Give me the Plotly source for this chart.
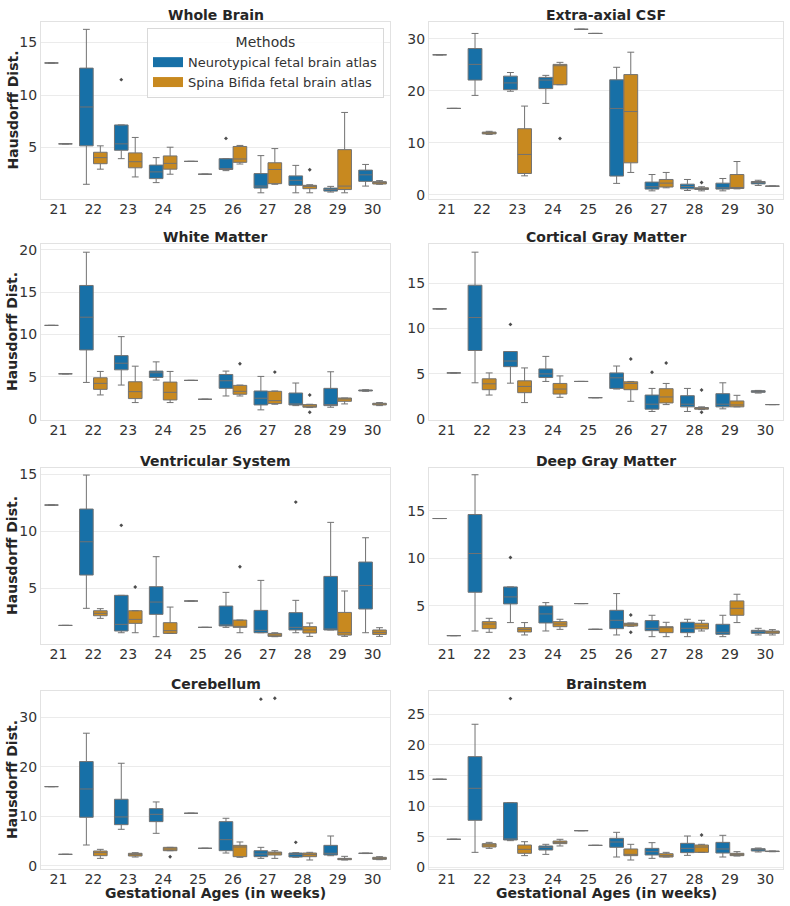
import plotly.graph_objects as go

# Gestational ages (weeks) on the x axis
ages = [21, 22, 23, 24, 25, 26, 27, 28, 29, 30]

# Box statistics per week: (lower whisker, q1, median, q3, upper whisker)
# nt = Neurotypical fetal brain atlas, sb = Spina Bifida fetal brain atlas
whole_brain_nt = [(13.05,) * 5, (1.5, 5.16, 8.86, 12.56, 16.25), (3.94, 4.74, 5.35, 7.15, 7.15),
                  (1.66, 2.04, 2.68, 3.33, 4.04), (3.68,) * 5, (2.8, 2.91, 2.95, 3.94, 3.94),
                  (0.69, 1.14, 1.33, 2.52, 4.23), (0.69, 1.4, 1.88, 2.3, 3.3),
                  (0.76, 0.85, 1.0, 1.14, 1.3), (1.33, 1.78, 2.4, 2.85, 3.39)]
whole_brain_sb = [(5.35,) * 5, (2.94, 3.46, 4.04, 4.55, 5.16), (2.2, 3.07, 3.65, 4.49, 5.96),
                  (2.46, 2.94, 3.49, 4.2, 5.03), (2.46,) * 5, (3.43, 3.59, 3.91, 5.1, 5.2),
                  (1.5, 1.56, 2.91, 3.55, 4.9), (0.69, 1.08, 1.3, 1.4, 1.46),
                  (0.69, 1.0, 1.33, 4.8, 8.34), (1.5, 1.53, 1.66, 1.75, 1.85)]
whole_brain_nt_out = [(23, 11.46), (26, 5.87)]
whole_brain_sb_out = [(28, 2.88)]

csf_nt = [(26.9,) * 5, (19.1, 22.05, 25.06, 28.1, 31.0), (19.9, 20.2, 21.5, 22.8, 23.5),
          (17.56, 20.4, 22.05, 22.56, 22.95), (31.8,) * 5, (2.2, 3.6, 16.6, 22.1, 24.5),
          (0.77, 1.1, 1.55, 2.45, 3.9), (0.83, 1.15, 1.6, 2.05, 2.95),
          (0.77, 1.1, 1.35, 2.24, 3.14), (1.8, 2.1, 2.37, 2.56, 2.8)]
csf_sb = [(16.6,) * 5, (11.6, 11.7, 11.9, 12.05, 12.2), (3.65, 4.1, 7.76, 12.7, 17.05),
          (21.15, 21.15, 24.8, 25.06, 25.45), (31.0,) * 5, (4.3, 6.15, 16.0, 23.1, 27.4),
          (1.35, 1.5, 2.25, 2.95, 4.3), (0.77, 1.03, 1.22, 1.35, 1.55),
          (1.15, 1.22, 1.35, 3.9, 6.4), (1.6, 1.64, 1.67, 1.7, 1.72)]
csf_nt_out = []
csf_sb_out = [(24, 10.83), (28, 2.37)]

wm_nt = [(11.08,) * 5, (4.34, 8.18, 12.05, 15.8, 19.73), (4.03, 5.83, 6.61, 7.51, 9.75),
         (4.62, 4.93, 5.48, 5.68, 6.77), (4.58,) * 5, (2.74, 3.64, 4.54, 5.28, 5.68),
         (1.1, 1.68, 2.47, 3.33, 5.05), (1.6, 1.68, 1.72, 3.09, 4.27),
         (1.41, 1.6, 1.72, 3.64, 5.6), (3.29, 3.33, 3.4, 3.44, 3.48)]
wm_sb = [(5.36,) * 5, (2.86, 3.52, 4.23, 4.89, 5.64), (1.96, 2.43, 3.25, 4.42, 6.26),
         (1.96, 2.27, 3.17, 4.38, 5.64), (2.35,) * 5, (2.74, 2.94, 3.29, 3.99, 4.03),
         (1.76, 1.84, 2.19, 3.29, 3.33), (1.37, 1.41, 1.49, 1.72, 1.76),
         (1.8, 2.11, 2.39, 2.5, 2.5), (1.6, 1.68, 1.8, 1.88, 1.96)]
wm_nt_out = []
wm_sb_out = [(26, 6.54), (27, 5.56), (28, 2.86), (28, 0.82)]

cgm_nt = [(12.15,) * 5, (4.0, 7.56, 11.2, 14.76, 18.4), (3.96, 5.78, 6.4, 7.45, 7.45),
          (4.15, 4.58, 4.98, 5.53, 6.91), (4.15,) * 5, (3.31, 3.38, 4.55, 5.09, 5.85),
          (0.84, 1.09, 1.64, 2.65, 3.38), (0.84, 1.35, 1.64, 2.58, 3.38),
          (1.13, 1.35, 1.64, 2.8, 4.0), (2.87, 2.95, 3.05, 3.13, 3.16)]
cgm_sb = [(5.09,) * 5, (2.65, 3.24, 3.89, 4.44, 5.09), (1.82, 2.91, 3.6, 4.22, 5.64),
          (2.4, 2.76, 3.31, 3.93, 4.76), (2.36,) * 5, (1.96, 3.24, 3.93, 4.11, 4.15),
          (1.6, 1.78, 2.44, 3.35, 3.93), (1.05, 1.09, 1.2, 1.27, 1.35),
          (1.35, 1.35, 1.56, 2.0, 2.62), (1.6,) * 5]
cgm_nt_out = [(23, 10.44), (27, 5.16)]
cgm_sb_out = [(26, 6.62), (27, 6.18), (28, 3.2), (28, 0.76)]

vent_nt = [(12.31,) * 5, (3.25, 6.17, 9.09, 11.96, 14.94), (1.11, 1.26, 1.84, 4.39, 4.39),
           (0.76, 2.72, 3.8, 5.15, 7.78), (3.89,) * 5, (1.58, 1.7, 1.72, 3.45, 4.65),
           (1.11, 1.11, 1.32, 3.07, 5.7), (1.11, 1.35, 1.58, 2.87, 3.95),
           (1.35, 1.35, 1.35, 6.05, 10.79), (1.11, 3.19, 5.26, 7.31, 9.44)]
vent_sb = [(1.75,) * 5, (2.37, 2.6, 2.81, 3.04, 3.22), (1.11, 1.93, 2.28, 3.04, 3.04),
           (1.05, 1.05, 1.29, 1.99, 3.36), (1.58,) * 5, (1.11, 1.58, 1.64, 2.22, 2.22),
           (0.76, 0.79, 0.9, 1.05, 1.11), (0.79, 1.08, 1.35, 1.64, 1.96),
           (0.79, 0.9, 1.11, 2.89, 4.77), (0.79, 0.96, 1.14, 1.35, 1.55)]
vent_nt_out = [(23, 10.53), (28, 12.57)]
vent_sb_out = [(23, 5.12), (26, 6.9)]

dgm_nt = [(14.19,) * 5, (2.37, 6.44, 10.51, 14.61, 18.79), (3.25, 5.21, 5.95, 7.0, 7.0),
          (2.37, 3.21, 4.16, 5.0, 5.35), (5.25,) * 5, (1.95, 2.61, 3.49, 4.54, 6.3),
          (1.77, 2.4, 2.65, 3.46, 4.02), (1.77, 2.19, 2.65, 3.28, 3.6),
          (1.77, 2.02, 2.23, 3.07, 4.02), (1.95, 2.12, 2.37, 2.44, 2.65)]
dgm_sb = [(1.88,) * 5, (2.23, 2.61, 3.1, 3.35, 3.7), (1.95, 2.26, 2.54, 2.72, 3.25),
          (2.54, 2.82, 3.1, 3.35, 3.6), (2.54,) * 5, (2.86, 2.89, 3.1, 3.18, 3.21),
          (1.77, 2.19, 2.72, 2.82, 3.28), (2.37, 2.58, 2.89, 3.18, 3.49),
          (3.25, 4.02, 4.75, 5.53, 6.23), (1.95, 2.12, 2.26, 2.37, 2.51)]
dgm_nt_out = [(23, 10.09)]
dgm_sb_out = [(26, 4.05), (26, 2.23)]

cereb_nt = [(15.98,) * 5, (4.18, 9.78, 15.5, 21.04, 26.77), (7.35, 8.29, 9.85, 13.42, 20.7),
            (6.54, 8.9, 10.38, 11.53, 12.88), (10.59,) * 5, (2.56, 3.03, 5.26, 8.9, 9.58),
            (1.48, 1.82, 2.36, 3.03, 3.71), (1.69, 1.75, 2.29, 2.56, 2.63),
            (2.02, 2.16, 2.5, 4.11, 6.0), (2.45, 2.47, 2.5, 2.53, 2.55)]
cereb_sb = [(2.29,) * 5, (1.48, 2.02, 2.63, 2.97, 3.3), (1.75, 1.96, 2.29, 2.5, 2.63),
            (3.03, 3.03, 3.37, 3.71, 3.71), (3.51,) * 5, (1.69, 1.82, 3.78, 4.11, 4.79),
            (1.48, 2.16, 2.56, 2.76, 3.03), (1.15, 1.82, 2.23, 2.56, 2.7),
            (1.15, 1.21, 1.35, 1.48, 1.89), (1.21, 1.28, 1.48, 1.69, 1.82)]
cereb_nt_out = [(27, 33.65), (28, 4.72)]
cereb_sb_out = [(24, 1.82), (27, 33.85)]

stem_nt = [(14.38,) * 5, (2.45, 7.68, 12.91, 18.08, 23.37), (4.36, 4.47, 4.58, 10.57, 10.57),
           (2.12, 2.83, 3.27, 3.49, 3.76), (5.99,) * 5, (1.69, 3.27, 4.14, 4.74, 5.72),
           (1.47, 2.02, 2.56, 3.1, 4.03), (1.96, 2.4, 3.1, 3.92, 5.12),
           (1.69, 2.34, 3.0, 4.08, 5.23), (2.51, 2.67, 2.94, 3.05, 3.16)]
stem_sb = [(4.58,) * 5, (3.1, 3.32, 3.65, 3.87, 4.08), (1.91, 2.29, 2.94, 3.65, 4.19),
           (3.49, 3.87, 4.08, 4.3, 4.58), (3.59,) * 5, (1.2, 1.91, 2.12, 3.0, 3.76),
           (1.69, 1.69, 1.91, 2.23, 2.45), (2.45, 2.45, 3.32, 3.65, 3.76),
           (1.85, 1.91, 2.12, 2.29, 2.56), (2.55, 2.58, 2.61, 2.65, 2.68)]
stem_nt_out = [(23, 27.56)]
stem_sb_out = [(28, 5.28)]

methods = ["Neurotypical fetal brain atlas", "Spina Bifida fetal brain atlas"]

panels = [
    ("Whole Brain", whole_brain_nt, whole_brain_sb, whole_brain_nt_out, whole_brain_sb_out, [0.1, 16.95], 5),
    ("Extra-axial CSF", csf_nt, csf_sb, csf_nt_out, csf_sb_out, [-0.8, 33.2], 10),
    ("White Matter", wm_nt, wm_sb, wm_nt_out, wm_sb_out, [-0.1, 20.7], 5),
    ("Cortical Gray Matter", cgm_nt, cgm_sb, cgm_nt_out, cgm_sb_out, [-0.1, 19.3], 5),
    ("Ventricular System", vent_nt, vent_sb, vent_nt_out, vent_sb_out, [0.12, 15.56], 5),
    ("Deep Gray Matter", dgm_nt, dgm_sb, dgm_nt_out, dgm_sb_out, [1.0, 19.5], 5),
    ("Cerebellum", cereb_nt, cereb_sb, cereb_nt_out, cereb_sb_out, [-0.67, 35.3], 10),
    ("Brainstem", stem_nt, stem_sb, stem_nt_out, stem_sb_out, [-0.27, 28.8], 5),
]

BLUE = "#1770a7"
ORANGE = "#c8891f"
LINE = "#727272"
TEXT = "#262626"
FONT = "DejaVu Sans"
W, H = 790, 906

# panel frames in pixels
col_px = [(41, 390), (429, 783)]
row_px = [(22, 199), (244, 420), (468, 644), (691, 869)]

fig = go.Figure()
annotations = []
layout_axes = {}

for i, (title, nt, sb, nt_out, sb_out, yrange, dtick) in enumerate(panels):
    row, col = divmod(i, 2)
    n = "" if i == 0 else str(i + 1)
    xdom = [col_px[col][0] / W, col_px[col][1] / W]
    ydom = [1 - row_px[row][1] / H, 1 - row_px[row][0] / H]

    for stats, outs, color, off in ((nt, nt_out, BLUE, -0.2), (sb, sb_out, ORANGE, 0.2)):
        lo, q1, med, q3, hi = zip(*stats)
        fig.add_trace(go.Box(
            x=[a + off for a in ages], lowerfence=lo, q1=q1, median=med, q3=q3, upperfence=hi,
            width=0.39, whiskerwidth=0.5, fillcolor=color, line=dict(color=LINE, width=1),
            showlegend=False, hoverinfo="skip", xaxis="x" + n, yaxis="y" + n))
        if outs:
            fig.add_trace(go.Scatter(
                x=[a + off for a, v in outs], y=[v for a, v in outs], mode="markers",
                marker=dict(symbol="diamond", size=3, color="#4d4d4d"),
                showlegend=False, hoverinfo="skip", xaxis="x" + n, yaxis="y" + n))

    layout_axes["xaxis" + n] = dict(
        domain=xdom, anchor="y" + n, range=[20.5, 30.5], tickvals=ages, showgrid=False,
        zeroline=False, showline=True, mirror=True, linecolor="#e2e2e2", linewidth=1,
        ticks="", ticklabelstandoff=-3, tickfont=dict(size=14, color="#333333"), automargin=False)
    layout_axes["yaxis" + n] = dict(
        domain=ydom, anchor="x" + n, range=yrange, dtick=dtick, showgrid=True,
        gridcolor="#ebebeb", gridwidth=1, zeroline=False, showline=True, mirror=True,
        linecolor="#e2e2e2", linewidth=1, ticks="", tickfont=dict(size=14, color="#333333"),
        automargin=False)

    annotations.append(dict(
        text="<b>%s</b>" % title, x=(xdom[0] + xdom[1]) / 2, y=ydom[1], xref="paper", yref="paper",
        xanchor="center", yanchor="bottom", yshift=-3, showarrow=False,
        font=dict(size=14, color=TEXT, family=FONT)))
    if col == 0:
        annotations.append(dict(
            text="<b>Hausdorff Dist.</b>", x=12 / W, y=(ydom[0] + ydom[1]) / 2, xref="paper",
            yref="paper", textangle=-90, xanchor="center", yanchor="middle", showarrow=False,
            font=dict(size=14, color=TEXT, family=FONT)))
    if row == 3:
        annotations.append(dict(
            text="<b>Gestational Ages (in weeks)</b>", x=(xdom[0] + xdom[1]) / 2, y=1 - 893 / H,
            xref="paper", yref="paper", xanchor="center", yanchor="middle", showarrow=False,
            font=dict(size=14, color=TEXT, family=FONT)))

# legend entries
for name, color in zip(methods, (BLUE, ORANGE)):
    fig.add_trace(go.Scatter(x=[None], y=[None], mode="lines", name=name,
                             line=dict(color=color, width=10)))

fig.update_layout(
    width=W, height=H, template="none",
    margin=dict(l=0, r=0, t=0, b=0),
    paper_bgcolor="white", plot_bgcolor="white",
    font=dict(family=FONT, color=TEXT),
    annotations=annotations,
    legend=dict(
        title=dict(text="Methods", side="top center", font=dict(size=14, color="#333333")),
        x=147 / W, y=1 - 28 / H, xanchor="left", yanchor="top",
        bgcolor="rgba(255,255,255,0.85)", bordercolor="#d9d9d9", borderwidth=1,
        font=dict(size=13, color="#333333"), itemwidth=30, tracegroupgap=0),
    **layout_axes,
)

# drop the browser's default page margin so the figure sits at the top-left corner
fig.write_html("out.html", config={"displayModeBar": False},
               post_script="document.body.style.margin = '0';")
